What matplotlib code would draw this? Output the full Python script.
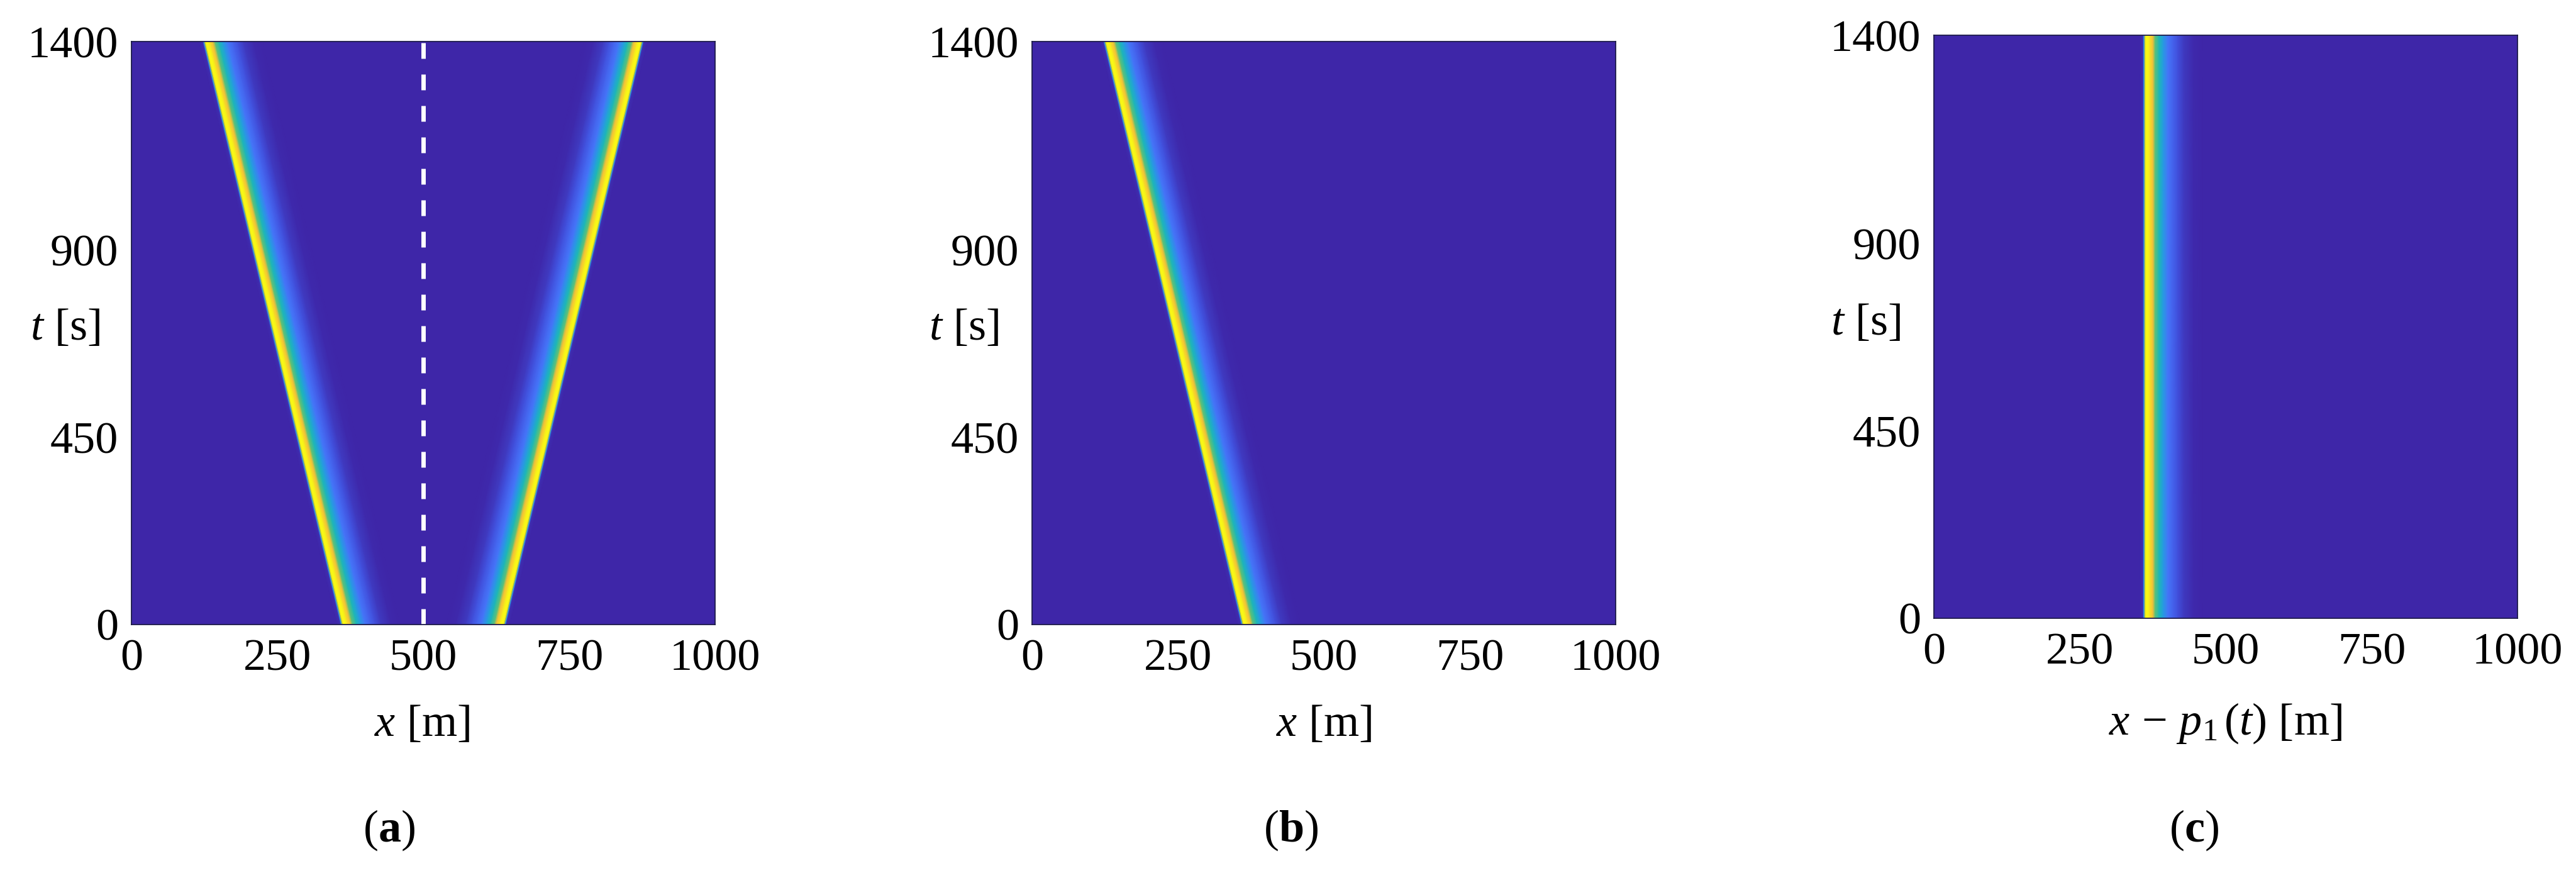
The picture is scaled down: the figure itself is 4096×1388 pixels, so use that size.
import numpy as np
import matplotlib
matplotlib.use("Agg")
import matplotlib.pyplot as plt
from matplotlib.colors import LinearSegmentedColormap

plt.rcParams['font.family'] = ['Liberation Serif', 'DejaVu Serif']
plt.rcParams['mathtext.fontset'] = 'custom'
plt.rcParams['mathtext.rm'] = 'Liberation Serif'
plt.rcParams['mathtext.it'] = 'Liberation Serif:italic'
plt.rcParams['mathtext.bf'] = 'Liberation Serif:bold'

# --- data ---
x_ticks = [0, 250, 500, 750, 1000]
t_ticks = [0, 450, 900, 1400]
t_rows = [0, 1400]
front_x = [352, 358, 360, 361.5, 363, 365, 368, 371, 375, 379, 386, 393, 401, 410, 418, 428, 445, 460]
front_v = [0.0, 0.02, 0.30, 0.65, 0.95, 1.0, 0.96, 0.86, 0.78, 0.56, 0.44, 0.32, 0.21, 0.15, 0.10, 0.05, 0.01, 0.0]
shift_moving = [0, 236]
shift_fixed = [0, 0]
x_labels = [r'$x$ [m]', r'$x$ [m]', r'$x\,-\,p_1\,(t)$ [m]']
captions = [r'($\mathbf{a}$)', r'($\mathbf{b}$)', r'($\mathbf{c}$)']
divider_x = [500, 500]
divider_t = [0, 1400]

parula_stops = ['#3e26a8', '#4150dc', '#4772fa', '#2c96e6', '#12b2c8',
                '#2fbf9c', '#7fc35c', '#d0ba3c', '#fac238', '#f5e71e', '#f9fb15']

# --- layout in output pixels (left, right, top, bottom) ---
W, H = 4096, 1388
panels = [(209, 1137, 66, 993), (1641, 2569, 66, 993), (3075, 4003, 56, 983)]
xlabel_px = [(671, 1152), (2105, 1152), (3538, 1150)]
ylabel_px = [(104, 522), (1533, 522), (2967, 515)]
caption_px = [(619, 1320), (2053, 1320), (3489, 1320)]

cmap = LinearSegmentedColormap.from_list('parula_like', parula_stops, N=256)
fig = plt.figure(figsize=(W / 100, H / 100), dpi=100, facecolor='white')
FS = 52


def front(ax, sign, base, shift):
    """Draw one front as a two-row mesh; the renderer shades between rows."""
    xs = np.array(front_x, dtype=float)
    sh = np.array(shift, dtype=float)
    X = np.vstack([base + sign * (xs - sh[0]), base + sign * (xs - sh[1])])
    Y = np.vstack([np.full_like(xs, t_rows[0]), np.full_like(xs, t_rows[1])])
    C = np.vstack([front_v, front_v])
    ax.pcolormesh(X, Y, C, shading='gouraud', cmap=cmap, vmin=0, vmax=1, rasterized=True)


for i, (l, r, top, bot) in enumerate(panels):
    ax = fig.add_axes([l / W, 1 - bot / H, (r - l) / W, (bot - top) / H])
    ax.set_facecolor(cmap(0.0))
    if i == 0:
        front(ax, 1, 0, shift_moving)
        front(ax, -1, 1000, shift_moving)
        ax.plot(divider_x, divider_t, color='white', lw=5.0,
                dashes=(25 * 0.72 / 5.0, 25 * 0.72 / 5.0), dash_capstyle='butt')
    elif i == 1:
        front(ax, 1, 0, shift_moving)
    else:
        front(ax, 1, 0, shift_fixed)
    ax.set_xlim(0, 1000)
    ax.set_ylim(0, 1400)
    ax.set_xticks(x_ticks)
    ax.set_yticks(t_ticks)
    ax.tick_params(length=0, labelsize=FS, pad=15)
    ax.tick_params(axis='x', pad=16)
    for s in ax.spines.values():
        s.set_linewidth(1.3)
        s.set_color('#1c1a4a')
    fig.text(xlabel_px[i][0] / W, 1 - xlabel_px[i][1] / H, x_labels[i],
             ha='center', va='center', fontsize=FS)
    fig.text(ylabel_px[i][0] / W, 1 - ylabel_px[i][1] / H, r'$t$ [s]',
             ha='center', va='center', fontsize=FS)
    fig.text(caption_px[i][0] / W, 1 - caption_px[i][1] / H, captions[i],
             ha='center', va='center', fontsize=FS)

fig.savefig('out.png', dpi=100, facecolor='white')
